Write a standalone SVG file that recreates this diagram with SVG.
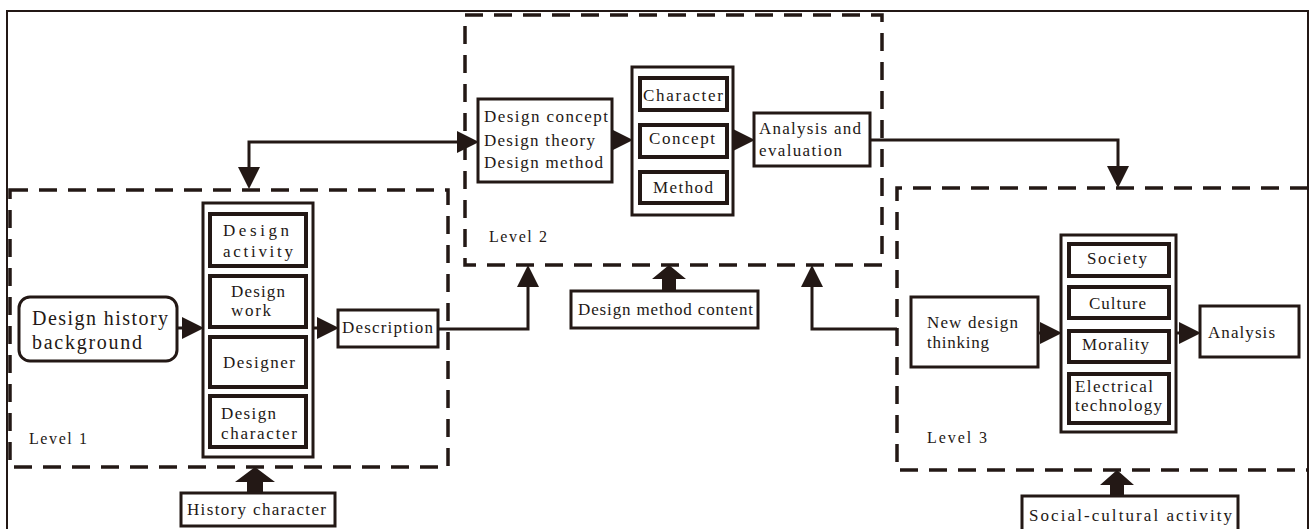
<svg xmlns="http://www.w3.org/2000/svg" width="1309" height="529" viewBox="0 0 1309 529">
<style>
  .frame{fill:none;stroke:#231815;stroke-width:2}
  .dash{fill:none;stroke:#231815;stroke-width:3.5;stroke-dasharray:18 11}
  .box{fill:#fff;stroke:#231815;stroke-width:3}
  .cont{fill:#fff;stroke:#231815;stroke-width:3}
  .inner{fill:#fff;stroke:#231815;stroke-width:4}
  .conn{fill:none;stroke:#231815;stroke-width:3}
  .block{fill:#231815;stroke:none}
  text{font-family:"Liberation Serif","Times New Roman",serif;fill:#231815;font-size:17px}
  .big{font-size:20px}
  .lvl{font-size:16px}
</style>
<defs>
  <marker id="ah" markerUnits="userSpaceOnUse" markerWidth="22" markerHeight="22" viewBox="0 0 20 20" refX="10" refY="10" orient="auto-start-reverse">
    <path d="M0,0 L20,10 L0,20 z" fill="#231815"/>
  </marker>
</defs>
<rect class="frame" x="7" y="11" width="1301" height="530"/>

<g id="level1">
  <rect class="dash" x="10" y="190" width="438" height="277"/>
  <text class="lvl" x="29" y="444" textLength="58" lengthAdjust="spacing">Level 1</text>
</g>
<g id="level2">
  <rect class="dash" x="465" y="15" width="417" height="250"/>
  <text class="lvl" x="489" y="242" textLength="58" lengthAdjust="spacing">Level 2</text>
</g>
<g id="level3">
  <path class="dash" d="M1308,188 H897 V470 H1308"/>
  <text class="lvl" x="927" y="443" textLength="60" lengthAdjust="spacing">Level 3</text>
</g>

<g id="connectors">
  <line class="conn" x1="177" y1="328" x2="193" y2="328" marker-end="url(#ah)"/>
  <line class="conn" x1="313" y1="328" x2="328" y2="328" marker-end="url(#ah)"/>
  <path class="conn" d="M438,329 H528 V276" marker-end="url(#ah)"/>
  <path class="conn" d="M249,178 V142 H468" marker-start="url(#ah)" marker-end="url(#ah)"/>
  <line class="conn" x1="612" y1="140" x2="622" y2="140" marker-end="url(#ah)"/>
  <line class="conn" x1="733" y1="140" x2="744" y2="140" marker-end="url(#ah)"/>
  <path class="conn" d="M870,140 H1118 V177" marker-end="url(#ah)"/>
  <path class="conn" d="M897,329 H812 V276" marker-end="url(#ah)"/>
  <line class="conn" x1="1038" y1="333" x2="1051" y2="333" marker-end="url(#ah)"/>
  <line class="conn" x1="1176" y1="333" x2="1190" y2="333" marker-end="url(#ah)"/>
  <polygon class="block" points="255,467 275,482 263,482 263,493 247,493 247,482 235,482"/>
  <polygon class="block" points="669,265 686,279 676,279 676,291 662,291 662,279 652,279"/>
  <polygon class="block" points="1117,470 1134,485 1124,485 1124,496 1110,496 1110,485 1100,485"/>
</g>

<g id="history-background">
  <rect class="box" x="19" y="297" width="158" height="64" rx="11"/>
  <text class="big" x="32" y="325" textLength="136" lengthAdjust="spacing">Design history</text>
  <text class="big" x="32" y="349" textLength="110" lengthAdjust="spacing">background</text>
</g>
<g id="l1-container">
  <rect class="cont" x="203" y="203" width="110" height="254"/>
</g>
<g id="design-activity">
  <rect class="inner" x="210" y="214" width="96" height="52"/>
  <text x="223" y="236" font-size="19" textLength="66" lengthAdjust="spacing">Design</text>
  <text x="223" y="257" font-size="19" textLength="70" lengthAdjust="spacing">activity</text>
</g>
<g id="design-work">
  <rect class="inner" x="210" y="276" width="96" height="51"/>
  <text x="231" y="297" textLength="54" lengthAdjust="spacing">Design</text>
  <text x="231" y="316" textLength="40" lengthAdjust="spacing">work</text>
</g>
<g id="designer">
  <rect class="inner" x="210" y="337" width="96" height="50"/>
  <text x="223" y="368" textLength="72" lengthAdjust="spacing">Designer</text>
</g>
<g id="design-character">
  <rect class="inner" x="210" y="396" width="96" height="51"/>
  <text x="221" y="419" textLength="55" lengthAdjust="spacing">Design</text>
  <text x="221" y="439" textLength="76" lengthAdjust="spacing">character</text>
</g>
<g id="description">
  <rect class="box" x="338" y="310" width="100" height="37"/>
  <text x="342" y="333" textLength="91" lengthAdjust="spacing">Description</text>
</g>
<g id="history-character">
  <rect class="box" x="181" y="493" width="154" height="33"/>
  <text x="187" y="515" textLength="139" lengthAdjust="spacing">History character</text>
</g>

<g id="design-concepts">
  <rect class="box" x="478" y="99" width="134" height="83"/>
  <text x="484" y="122" textLength="124" lengthAdjust="spacing">Design concept</text>
  <text x="484" y="146" textLength="111" lengthAdjust="spacing">Design theory</text>
  <text x="484" y="168" textLength="119" lengthAdjust="spacing">Design method</text>
</g>
<g id="l2-container">
  <rect class="cont" x="632" y="67" width="101" height="148"/>
</g>
<g id="character">
  <rect class="inner" x="640" y="78" width="87" height="32"/>
  <text x="643" y="101" textLength="80" lengthAdjust="spacing">Character</text>
</g>
<g id="concept">
  <rect class="inner" x="640" y="125" width="87" height="32"/>
  <text x="649" y="144" textLength="66" lengthAdjust="spacing">Concept</text>
</g>
<g id="method">
  <rect class="inner" x="640" y="172" width="87" height="31"/>
  <text x="653" y="193" textLength="60" lengthAdjust="spacing">Method</text>
</g>
<g id="analysis-evaluation">
  <rect class="box" x="754" y="113" width="116" height="53"/>
  <text x="759" y="134" textLength="102" lengthAdjust="spacing">Analysis and</text>
  <text x="759" y="156" textLength="83" lengthAdjust="spacing">evaluation</text>
</g>
<g id="design-method-content">
  <rect class="box" x="571" y="291" width="187" height="37"/>
  <text x="578" y="315" textLength="175" lengthAdjust="spacing">Design method content</text>
</g>

<g id="new-design-thinking">
  <rect class="box" x="911" y="297" width="127" height="70"/>
  <text x="927" y="328" textLength="91" lengthAdjust="spacing">New design</text>
  <text x="927" y="348" textLength="62" lengthAdjust="spacing">thinking</text>
</g>
<g id="l3-container">
  <rect class="cont" x="1061" y="235" width="115" height="197"/>
</g>
<g id="society">
  <rect class="inner" x="1069" y="244" width="100" height="32"/>
  <text x="1087" y="264" textLength="60" lengthAdjust="spacing">Society</text>
</g>
<g id="culture">
  <rect class="inner" x="1069" y="287" width="100" height="31"/>
  <text x="1089" y="309" textLength="57" lengthAdjust="spacing">Culture</text>
</g>
<g id="morality">
  <rect class="inner" x="1069" y="331" width="100" height="31"/>
  <text x="1082" y="350" textLength="67" lengthAdjust="spacing">Morality</text>
</g>
<g id="electrical-technology">
  <rect class="inner" x="1069" y="374" width="100" height="49"/>
  <text x="1075" y="392" textLength="78" lengthAdjust="spacing">Electrical</text>
  <text x="1075" y="411" textLength="87" lengthAdjust="spacing">technology</text>
</g>
<g id="analysis">
  <rect class="box" x="1200" y="306" width="99" height="51"/>
  <text x="1208" y="338" textLength="67" lengthAdjust="spacing">Analysis</text>
</g>
<g id="social-cultural-activity">
  <rect class="box" x="1022" y="496" width="216" height="40"/>
  <text x="1029" y="521" textLength="203" lengthAdjust="spacing">Social-cultural activity</text>
</g>
</svg>
